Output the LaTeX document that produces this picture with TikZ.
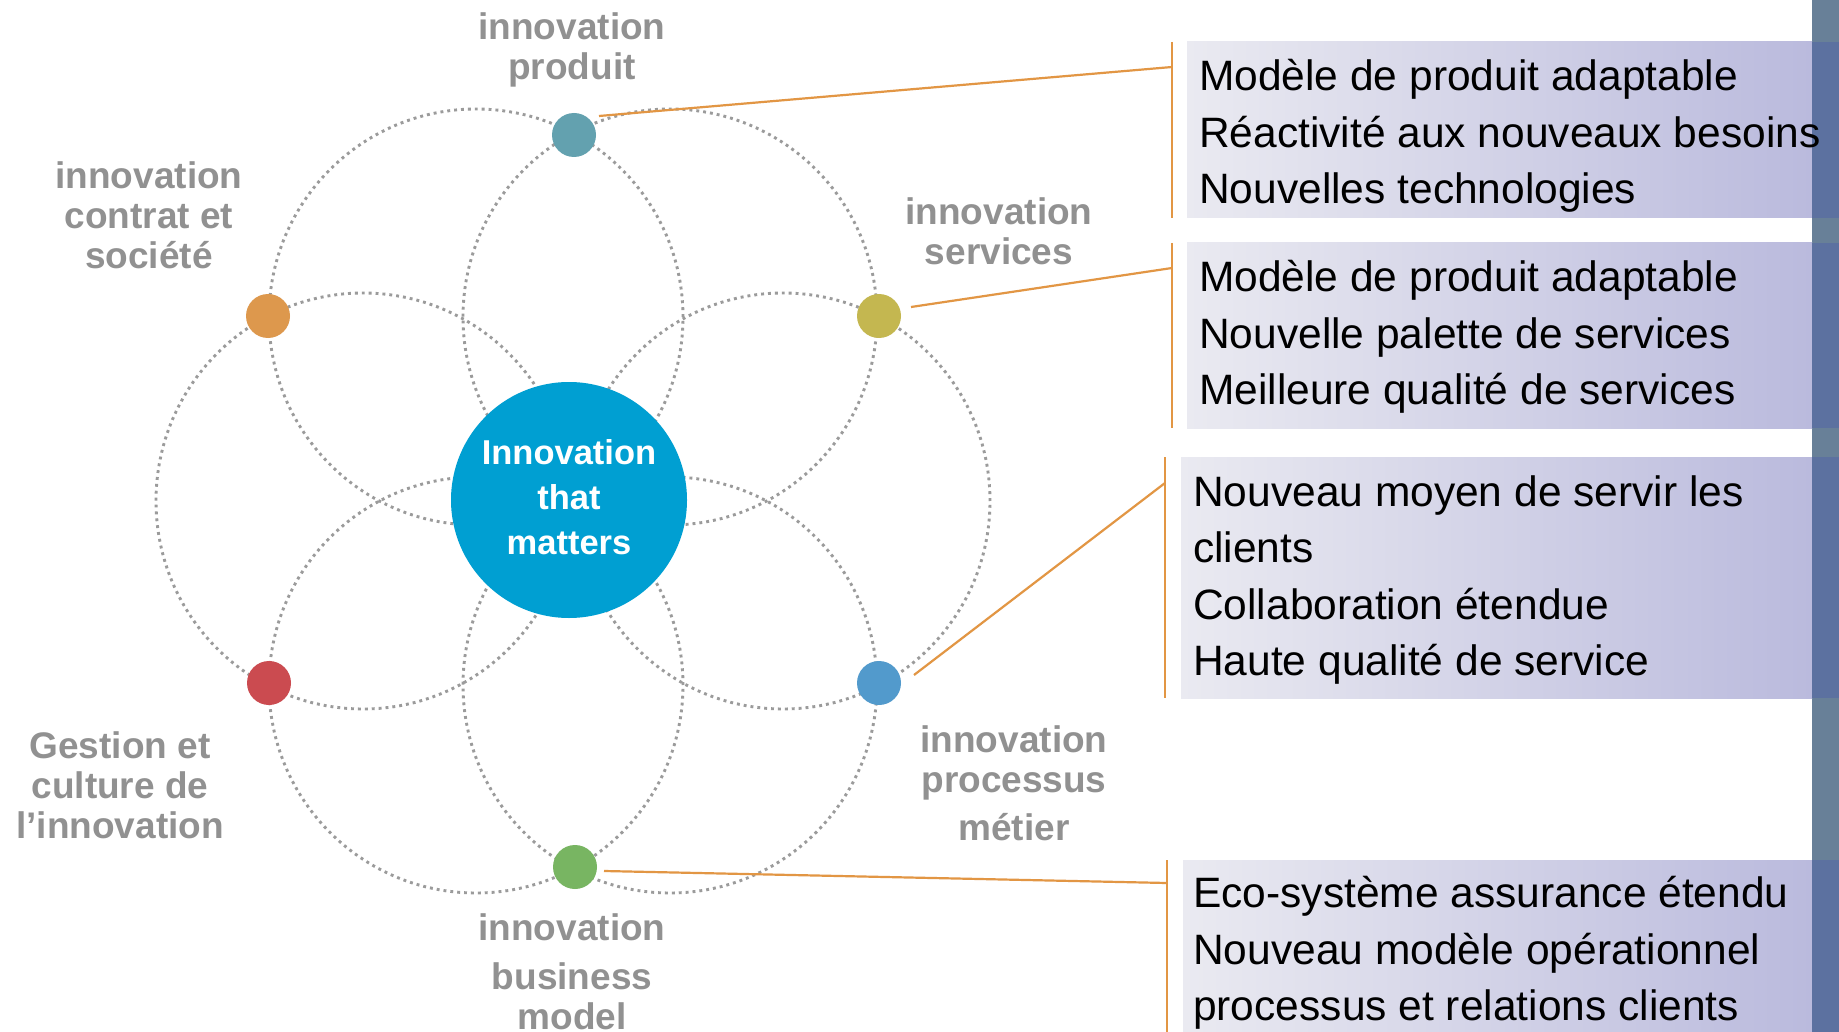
\documentclass[tikz,border=0pt]{standalone}
\usepackage{fontspec}
\setmainfont{Liberation Sans}
\usetikzlibrary{calc}
\definecolor{lblgray}{RGB}{145,145,145}
\definecolor{dotgray}{RGB}{155,155,155}
\definecolor{hubblue}{RGB}{0,159,210}
\definecolor{cteal}{RGB}{99,161,175}
\definecolor{corange}{RGB}{221,152,77}
\definecolor{cyellow}{RGB}{196,183,80}
\definecolor{cred}{RGB}{203,75,80}
\definecolor{cblue}{RGB}{82,154,204}
\definecolor{cgreen}{RGB}{120,181,98}
\definecolor{linkorange}{RGB}{226,150,68}
\definecolor{boxleft}{RGB}{234,234,241}
\definecolor{boxright}{RGB}{186,186,221}
\definecolor{barlight}{RGB}{104,128,152}
\definecolor{bardark}{RGB}{92,113,160}
\begin{document}
\begin{tikzpicture}[x=1pt,y=-1pt,
  petal/.style={draw=dotgray,line width=2.9pt,dash pattern=on 2.9pt off 4pt},
  hub/.style={circle,fill=hubblue,minimum size=236pt,inner sep=0pt},
  hubtext/.style={text=white,font=\bfseries\fontsize{34.5}{45}\selectfont,align=center,inner sep=0pt},
  facet/.style={circle,minimum size=44pt,inner sep=0pt},
  lbl/.style={text=lblgray,font=\bfseries\fontsize{37}{40}\selectfont,align=center,inner sep=0pt},
  link/.style={draw=linkorange,line width=2.2pt},
  bracket/.style={draw=linkorange,line width=2pt},
  panel/.style={left color=boxleft,right color=boxright,draw=none},
  paneltext/.style={font=\fontsize{42.5}{56.5}\selectfont,align=left,anchor=west,inner sep=0pt,text=black}
]
\fill[white] (0,0) rectangle (1839,1032);
\useasboundingbox (0,0) rectangle (1839,1032);

% dotted petals
\foreach \cx/\cy in {783/501, 670/317, 476/317, 363/501, 476/685, 670/685}
  \draw[petal] (\cx,\cy) ellipse [x radius=207pt, y radius=208pt];

% hub
\node[hub] (hub) at (569,500) {};
\node[hubtext] (hubtxt) at (569,497.5) {Innovation\\that\\matters};

% facet dots
\node[facet,fill=cteal]   (prod) at (574,135) {};
\node[facet,fill=corange] (contr) at (268,316) {};
\node[facet,fill=cyellow] (serv) at (879,316) {};
\node[facet,fill=cred]    (gest) at (269,683) {};
\node[facet,fill=cblue]   (proc) at (879,683) {};
\node[facet,fill=cgreen]  (bus) at (575,867) {};

% right bar
\fill[barlight] (1812,0) rectangle (1839,1032);

% panels
\path[panel] (1187,42) rectangle (1812,218);
\path[panel] (1187,243) rectangle (1812,428);
\path[panel] (1181,457) rectangle (1812,698);
\path[panel] (1183,860) rectangle (1812,1032);
\fill[bardark] (1812,42) rectangle (1839,218);
\fill[bardark] (1812,243) rectangle (1839,428);
\fill[bardark] (1812,457) rectangle (1839,698);
\fill[bardark] (1812,860) rectangle (1839,1032);

% brackets
\draw[bracket] (1172,42) -- (1172,218);
\draw[bracket] (1172,243) -- (1172,428);
\draw[bracket] (1165,457) -- (1165,698);
\draw[bracket] (1167,860) -- (1167,1032);

% connectors
\coordinate (e1) at (1172,67);
\coordinate (e2) at (1172,268);
\coordinate (e3) at (1165,483);
\coordinate (e4) at (1167,883);
\draw[link] ([shift={(25,-19)}]prod.center) -- (e1);
\draw[link] ([shift={(32,-9)}]serv.center) -- (e2);
\draw[link] ([shift={(35,-8)}]proc.center) -- (e3);
\draw[link] ([shift={(29,4)}]bus.center) -- (e4);

% labels
\node[lbl] (lprod) at (572,50) {innovation\\produit};
\node[lbl] (lcontr) at (149,215) {innovation\\contrat et\\société};
\node[lbl] (lserv) at (999,231) {innovation\\services};
\node[lbl] (lgest) at (120,785) {Gestion et\\culture de\\l’innovation};
\node[lbl] (lproc) at (1014,783) {innovation\\processus\\[8pt]métier};
\node[lbl] (lbus) at (572,972) {innovation\\[9pt]business\\model};

% panel texts
\node[paneltext] (t1) at (1199,136) {Modèle de produit adaptable\\Réactivité aux nouveaux besoins\\Nouvelles technologies};
\node[paneltext] (t2) at (1199,337) {Modèle de produit adaptable\\Nouvelle palette de services\\Meilleure qualité de services};
\node[paneltext] (t3) at (1193,580) {Nouveau moyen de servir les\\clients\\Collaboration étendue\\Haute qualité de service};
\node[paneltext] (t4) at (1193,953) {Eco-système assurance étendu\\Nouveau modèle opérationnel\\processus et relations clients};
\end{tikzpicture}
\end{document}
